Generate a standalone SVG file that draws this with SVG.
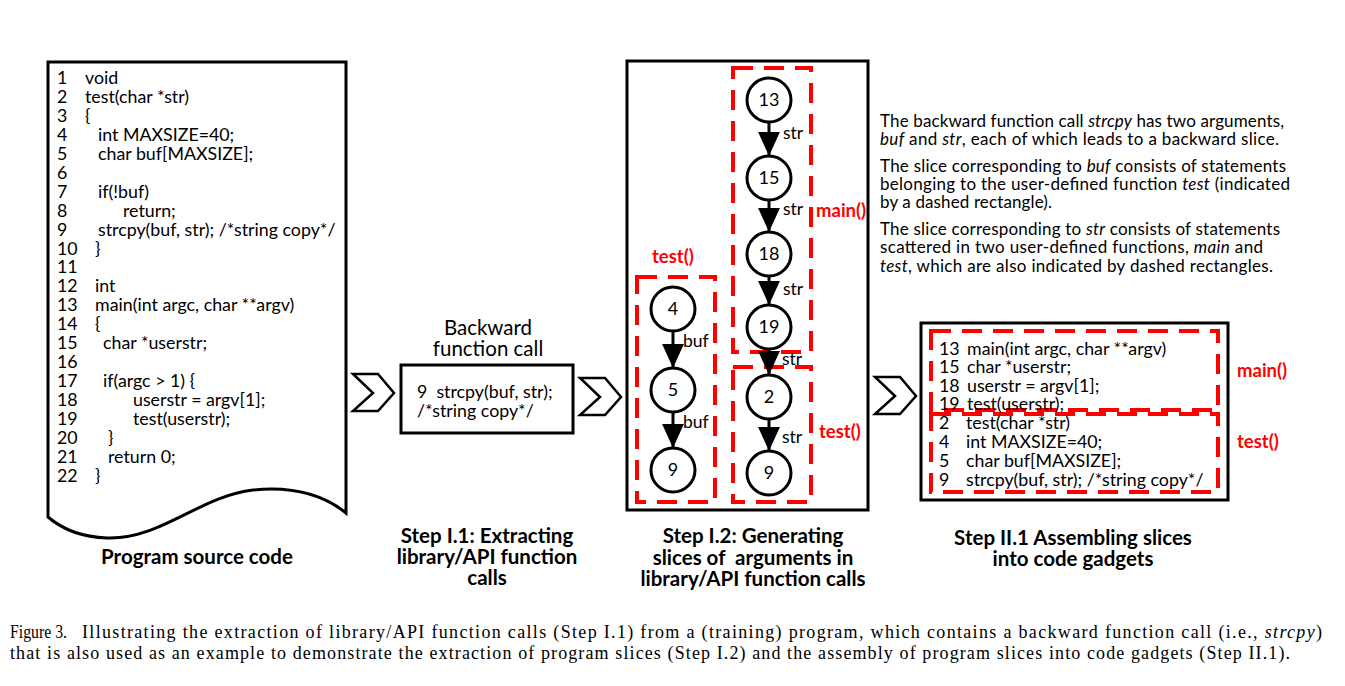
<svg xmlns="http://www.w3.org/2000/svg" width="1345" height="686" viewBox="0 0 1345 686">
<style>
.c{font-family:Lato,"Open Sans","DejaVu Sans",sans-serif;font-size:17.8px;fill:#000}
.lbl{font-family:Lato,"Open Sans",sans-serif;font-size:17.5px;fill:#000}
.n{font-family:Lato,"Open Sans",sans-serif;font-size:18px;fill:#000;text-anchor:middle}
.h{font-family:Lato,"Open Sans",sans-serif;font-size:20.5px;font-weight:bold;fill:#000;text-anchor:middle}
.t{font-family:Lato,"Open Sans",sans-serif;font-size:20.5px;fill:#000;text-anchor:middle}
.r{font-family:Lato,"Open Sans",sans-serif;font-size:18.5px;font-weight:bold;fill:#ff0000}
.p{font-family:Lato,"Open Sans",sans-serif;font-size:17px;fill:#000}
.cap{font-family:"Liberation Serif","Times New Roman",serif;font-size:18px;fill:#000}
.box{fill:#fff;stroke:#000;stroke-width:3}
.dash{fill:none;stroke:#ff0000;stroke-width:4;stroke-dasharray:20 11}
.chev{fill:#fff;stroke:#000;stroke-width:2.5;stroke-linejoin:miter}
.node{fill:#fff;stroke:#000;stroke-width:3}
.edge{stroke:#000;stroke-width:3;fill:none;marker-end:url(#ah)}
</style>
<defs>
<marker id="ah" markerUnits="userSpaceOnUse" markerWidth="24" markerHeight="22" viewBox="0 0 22 20" refX="22" refY="10" orient="auto">
<path d="M0,0 L22,10 L0,20 Z" fill="#000"/>
</marker>
<path id="chevron" d="M0,0 H25 L41,19 L25,37 H0 L20,19 Z"/>
</defs>

<!-- Program source code -->
<g id="source">
<path class="box" d="M48,62 H346 V513 C325,496 295,486 253,490 C200,496 160,540 107,538 C82,537 62,529 48,517 Z"/>
<g class="c">
<text x="57" y="84">1</text><text x="85" y="84">void</text>
<text x="57" y="103">2</text><text x="85" y="103">test(char *str)</text>
<text x="57" y="122">3</text><text x="85" y="122">{</text>
<text x="57" y="141">4</text><text x="98" y="141">int MAXSIZE=40;</text>
<text x="57" y="160">5</text><text x="98" y="160">char buf[MAXSIZE];</text>
<text x="57" y="179">6</text>
<text x="57" y="198">7</text><text x="98" y="198">if(!buf)</text>
<text x="57" y="217">8</text><text x="123" y="217">return;</text>
<text x="57" y="236">9</text><text x="98" y="236">strcpy(buf, str); /*string copy*/</text>
<text x="57" y="255">10</text><text x="95" y="255">}</text>
<text x="57" y="273">11</text>
<text x="57" y="292">12</text><text x="95" y="292">int</text>
<text x="57" y="311">13</text><text x="95" y="311">main(int argc, char **argv)</text>
<text x="57" y="330">14</text><text x="95" y="330">{</text>
<text x="57" y="349">15</text><text x="103" y="349">char *userstr;</text>
<text x="57" y="368">16</text>
<text x="57" y="387">17</text><text x="103" y="387">if(argc &gt; 1) {</text>
<text x="57" y="406">18</text><text x="133" y="406">userstr = argv[1];</text>
<text x="57" y="425">19</text><text x="133" y="425">test(userstr);</text>
<text x="57" y="444">20</text><text x="108" y="444">}</text>
<text x="57" y="463">21</text><text x="108" y="463">return 0;</text>
<text x="57" y="482">22</text><text x="95" y="482">}</text>
</g>
<text class="h" x="197" y="564">Program source code</text>
</g>

<!-- Chevrons -->
<g id="chevrons">
<use href="#chevron" class="chev" x="353" y="374"/>
<use href="#chevron" class="chev" x="580" y="378"/>
<use href="#chevron" class="chev" x="875" y="377"/>
</g>

<!-- Backward function call -->
<g id="backward">
<text class="t" x="488" y="335">Backward</text>
<text class="t" x="488" y="356">function call</text>
<rect class="box" x="401" y="365" width="172" height="68"/>
<text class="c" x="417" y="398" xml:space="preserve">9  strcpy(buf, str);</text>
<text class="c" x="417" y="417">/*string copy*/</text>
<text class="h" x="487" y="543">Step I.1: Extracting</text>
<text class="h" x="487" y="564">library/API function</text>
<text class="h" x="487" y="585">calls</text>
</g>

<!-- Slices graph -->
<g id="slices">
<rect class="box" x="627" y="61" width="241" height="449"/>
<rect class="dash" x="733" y="68" width="78" height="284"/>
<rect class="dash" x="733" y="367" width="78" height="135"/>
<rect class="dash" x="637" y="277" width="78" height="225"/>
<text class="r" x="816" y="217">main()</text>
<text class="r" x="652" y="263">test()</text>
<text class="r" x="819" y="438">test()</text>
<text class="h" x="753" y="543">Step I.2: Generating</text>
<text class="h" x="753" y="565" xml:space="preserve">slices of  arguments in</text>
<text class="h" x="753" y="586">library/API function calls</text>
</g>

<g id="connectors">
<line class="edge" x1="769" y1="122" x2="769" y2="156"/>
<line class="edge" x1="769" y1="200" x2="769" y2="232"/>
<line class="edge" x1="769" y1="276" x2="769" y2="305"/>
<line class="edge" x1="769" y1="349" x2="769" y2="375"/>
<line class="edge" x1="769" y1="419" x2="769" y2="451"/>
<line class="edge" x1="673" y1="331" x2="673" y2="368"/>
<line class="edge" x1="673" y1="412" x2="673" y2="448"/>
<g class="lbl">
<text x="783" y="139">str</text>
<text x="783" y="215">str</text>
<text x="783" y="295">str</text>
<text x="782" y="365">str</text>
<text x="782" y="443">str</text>
<text x="683" y="347">buf</text>
<text x="683" y="428">buf</text>
</g>
</g>

<g id="n13"><circle class="node" cx="769" cy="100" r="22"/><text class="n" x="769" y="106">13</text></g>
<g id="n15"><circle class="node" cx="769" cy="178" r="22"/><text class="n" x="769" y="184">15</text></g>
<g id="n18"><circle class="node" cx="769" cy="254" r="22"/><text class="n" x="769" y="260">18</text></g>
<g id="n19"><circle class="node" cx="769" cy="327" r="22"/><text class="n" x="769" y="333">19</text></g>
<g id="n2"><circle class="node" cx="769" cy="397" r="22"/><text class="n" x="769" y="403">2</text></g>
<g id="n9b"><circle class="node" cx="769" cy="473" r="22"/><text class="n" x="769" y="479">9</text></g>
<g id="n4"><circle class="node" cx="673" cy="309" r="22"/><text class="n" x="673" y="315">4</text></g>
<g id="n5"><circle class="node" cx="673" cy="390" r="22"/><text class="n" x="673" y="396">5</text></g>
<g id="n9a"><circle class="node" cx="673" cy="470" r="22"/><text class="n" x="673" y="476">9</text></g>

<!-- Explanation text -->
<g id="explanation" class="p">
<text x="880" y="127" textLength="404">The backward function call <tspan font-style="italic">strcpy</tspan> has two arguments,</text>
<text x="880" y="145" textLength="399"><tspan font-style="italic">buf</tspan> and <tspan font-style="italic">str</tspan>, each of which leads to a backward slice.</text>
<text x="880" y="172" textLength="406">The slice corresponding to <tspan font-style="italic">buf</tspan> consists of statements</text>
<text x="880" y="190" textLength="410">belonging to the user-defined function <tspan font-style="italic">test</tspan> (indicated</text>
<text x="880" y="208" textLength="172">by a dashed rectangle).</text>
<text x="880" y="235" textLength="400">The slice corresponding to <tspan font-style="italic">str</tspan> consists of statements</text>
<text x="880" y="253" textLength="383">scattered in two user-defined functions, <tspan font-style="italic">main</tspan> and</text>
<text x="880" y="272" textLength="393"><tspan font-style="italic">test</tspan>, which are also indicated by dashed rectangles.</text>
</g>

<!-- Code gadget -->
<g id="gadget">
<rect class="box" x="921" y="323" width="307" height="177"/>
<rect class="dash" x="931" y="331" width="287" height="79"/>
<rect class="dash" x="931" y="414" width="287" height="78"/>
<g class="c">
<text x="939" y="355">13</text><text x="967" y="355">main(int argc, char **argv)</text>
<text x="939" y="373">15</text><text x="967" y="373">char *userstr;</text>
<text x="939" y="392">18</text><text x="967" y="392">userstr = argv[1];</text>
<text x="939" y="410">19</text><text x="967" y="410">test(userstr);</text>
<text x="939" y="429">2</text><text x="966" y="429">test(char *str)</text>
<text x="939" y="448">4</text><text x="966" y="448">int MAXSIZE=40;</text>
<text x="939" y="467">5</text><text x="966" y="467">char buf[MAXSIZE];</text>
<text x="939" y="486">9</text><text x="966" y="486">strcpy(buf, str); /*string copy*/</text>
</g>
<text class="r" x="1237" y="377">main()</text>
<text class="r" x="1237" y="448">test()</text>
<text class="h" x="1073" y="545">Step II.1 Assembling slices</text>
<text class="h" x="1073" y="566">into code gadgets</text>
</g>

<!-- Figure caption -->
<g id="caption" class="cap">
<text x="10" y="638" textLength="57" lengthAdjust="spacingAndGlyphs">Figure 3.</text>
<text x="82" y="638" textLength="1240">Illustrating the extraction of library/API function calls (Step I.1) from a (training) program, which contains a backward function call (i.e., <tspan font-style="italic">strcpy</tspan>)</text>
<text x="10" y="659" textLength="1280">that is also used as an example to demonstrate the extraction of program slices (Step I.2) and the assembly of program slices into code gadgets (Step II.1).</text>
</g>
</svg>
